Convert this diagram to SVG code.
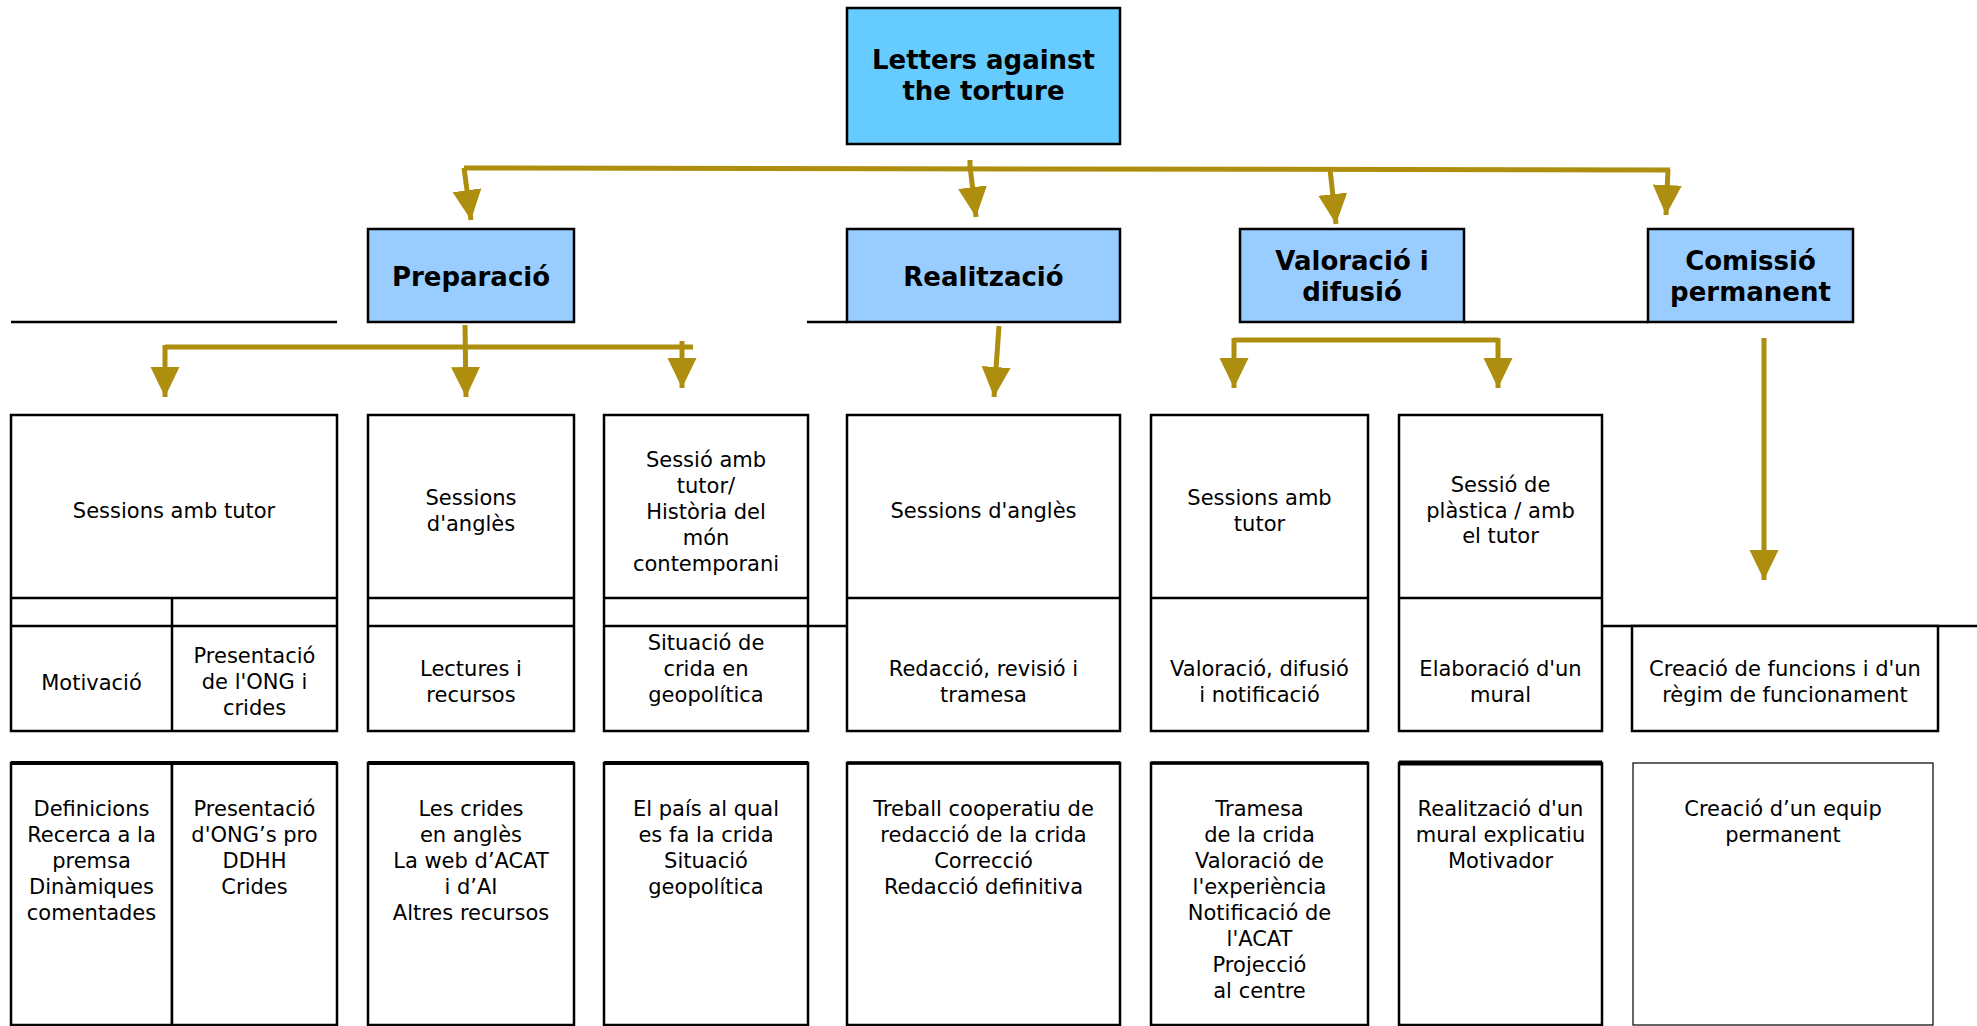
<svg xmlns="http://www.w3.org/2000/svg" width="1977" height="1026" viewBox="0 0 1977 1026">
<style>
.t{font-family:"DejaVu Sans",Verdana,sans-serif;font-size:21px;fill:#000;text-anchor:middle}
.h{font-family:"DejaVu Sans",Verdana,sans-serif;font-size:26px;font-weight:bold;fill:#000;text-anchor:middle}
.box{fill:#fff;stroke:#000;stroke-width:2.5}
.thin{fill:#fff;stroke:#000;stroke-width:1.2}
.top{fill:#66CCFF;stroke:#000;stroke-width:2.5}
.l1{fill:#99CCFF;stroke:#000;stroke-width:2.5}
.ln{stroke:#000;stroke-width:2.5;fill:none}
.bar{stroke:#AE8E0E;stroke-width:5;fill:none}
.arr{stroke:#AE8E0E;stroke-width:5;fill:none;marker-end:url(#ah)}
</style>
<defs>
<marker id="ah" markerUnits="userSpaceOnUse" markerWidth="31" markerHeight="30" refX="30" refY="14.5" orient="auto">
<path d="M0,0 L30,14.5 L0,29 Z" fill="#AE8E0E"/>
</marker>
</defs>

<g id="connectors">
<path class="bar" d="M464,168 L1670,170"/>
<path class="bar" d="M970,160 L970,168"/>
<path class="arr" d="M464,168 L471,220"/>
<path class="arr" d="M970,166 L976,217"/>
<path class="arr" d="M1330,169 L1336,224"/>
<path class="arr" d="M1668,169 L1666,215"/>
<path class="bar" d="M165,347 L693,347"/>
<path class="arr" d="M465,325 L466,397"/>
<path class="arr" d="M165,345 L165,397"/>
<path class="arr" d="M682,341 L682,388"/>
<path class="arr" d="M999,326 L994,397"/>
<path class="bar" d="M1234,340 L1498,340"/>
<path class="arr" d="M1234,338 L1234,388"/>
<path class="arr" d="M1498,338 L1498,388"/>
<path class="arr" d="M1764,338 L1764,580"/>
</g>

<g id="guides">
<path class="ln" d="M11,322 L337,322 M807,322 L847,322 M1464,322 L1648,322"/>
<path class="ln" d="M808,626 L847,626 M1602,626 L1977,626"/>
</g>

<g id="root">
<rect class="top" x="847" y="8" width="273" height="136"/>
<text class="h" x="983.5" y="69">Letters against</text>
<text class="h" x="983.5" y="100">the torture</text>
</g>

<g id="preparacio">
<rect class="l1" x="368" y="229" width="206" height="93"/>
<text class="h" x="471" y="286">Preparació</text>
</g>
<g id="realitzacio">
<rect class="l1" x="847" y="229" width="273" height="93"/>
<text class="h" x="983.5" y="286">Realització</text>
</g>
<g id="valoracio">
<rect class="l1" x="1240" y="229" width="224" height="93"/>
<text class="h" x="1352" y="270">Valoració i</text>
<text class="h" x="1352" y="301">difusió</text>
</g>
<g id="comissio">
<rect class="l1" x="1648" y="229" width="205" height="93"/>
<text class="h" x="1750.5" y="270">Comissió</text>
<text class="h" x="1750.5" y="301">permanent</text>
</g>

<g id="sessions-tutor">
<rect class="box" x="11" y="415" width="326" height="316"/>
<path class="ln" d="M11,598 L337,598 M11,626 L337,626 M172,598 L172,731"/>
<text class="t" x="174" y="518">Sessions amb tutor</text>
<text class="t" x="91.5" y="690">Motivació</text>
<text class="t" x="254.5" y="663">Presentació</text>
<text class="t" x="254.5" y="689">de l'ONG i</text>
<text class="t" x="254.5" y="715">crides</text>
</g>
<g id="sessions-angles-1">
<rect class="box" x="368" y="415" width="206" height="316"/>
<path class="ln" d="M368,598 L574,598 M368,626 L574,626"/>
<text class="t" x="471" y="505">Sessions</text>
<text class="t" x="471" y="531">d'anglès</text>
<text class="t" x="471" y="676">Lectures i</text>
<text class="t" x="471" y="702">recursos</text>
</g>
<g id="sessio-historia">
<rect class="box" x="604" y="415" width="204" height="316"/>
<path class="ln" d="M604,598 L808,598 M604,626 L808,626"/>
<text class="t" x="706" y="467">Sessió amb</text>
<text class="t" x="706" y="493">tutor/</text>
<text class="t" x="706" y="519">Història del</text>
<text class="t" x="706" y="545">món</text>
<text class="t" x="706" y="571">contemporani</text>
<text class="t" x="706" y="650">Situació de</text>
<text class="t" x="706" y="676">crida en</text>
<text class="t" x="706" y="702">geopolítica</text>
</g>
<g id="sessions-angles-2">
<rect class="box" x="847" y="415" width="273" height="316"/>
<path class="ln" d="M847,598 L1120,598"/>
<text class="t" x="983.5" y="518">Sessions d'anglès</text>
<text class="t" x="983.5" y="676">Redacció, revisió i</text>
<text class="t" x="983.5" y="702">tramesa</text>
</g>
<g id="sessions-tutor-2">
<rect class="box" x="1151" y="415" width="217" height="316"/>
<path class="ln" d="M1151,598 L1368,598"/>
<text class="t" x="1259.5" y="505">Sessions amb</text>
<text class="t" x="1259.5" y="531">tutor</text>
<text class="t" x="1259.5" y="676">Valoració, difusió</text>
<text class="t" x="1259.5" y="702">i notificació</text>
</g>
<g id="sessio-plastica">
<rect class="box" x="1399" y="415" width="203" height="316"/>
<path class="ln" d="M1399,598 L1602,598"/>
<text class="t" x="1500.5" y="492">Sessió de</text>
<text class="t" x="1500.5" y="518">plàstica / amb</text>
<text class="t" x="1500.5" y="543">el tutor</text>
<text class="t" x="1500.5" y="676">Elaboració d'un</text>
<text class="t" x="1500.5" y="702">mural</text>
</g>
<g id="creacio-funcions">
<rect class="box" x="1632" y="626" width="306" height="105"/>
<text class="t" x="1785" y="676">Creació de funcions i d'un</text>
<text class="t" x="1785" y="702">règim de funcionament</text>
</g>

<g id="detall-tutor">
<rect class="box" x="11" y="763" width="161" height="262"/>
<rect class="box" x="172" y="763" width="165" height="262"/>
<path d="M11,763 L337,763" stroke="#000" stroke-width="4"/>
<text class="t" x="91.5" y="816">Definicions</text>
<text class="t" x="91.5" y="842">Recerca a la</text>
<text class="t" x="91.5" y="868">premsa</text>
<text class="t" x="91.5" y="894">Dinàmiques</text>
<text class="t" x="91.5" y="920">comentades</text>
<text class="t" x="254.5" y="816">Presentació</text>
<text class="t" x="254.5" y="842">d'ONG’s pro</text>
<text class="t" x="254.5" y="868">DDHH</text>
<text class="t" x="254.5" y="894">Crides</text>
</g>
<g id="detall-angles">
<rect class="box" x="368" y="763" width="206" height="262"/>
<path d="M368,763 L574,763" stroke="#000" stroke-width="4"/>
<text class="t" x="471" y="816">Les crides</text>
<text class="t" x="471" y="842">en anglès</text>
<text class="t" x="471" y="868">La web d’ACAT</text>
<text class="t" x="471" y="894">i d’AI</text>
<text class="t" x="471" y="920">Altres recursos</text>
</g>
<g id="detall-pais">
<rect class="box" x="604" y="763" width="204" height="262"/>
<path d="M604,763 L808,763" stroke="#000" stroke-width="4"/>
<text class="t" x="706" y="816">El país al qual</text>
<text class="t" x="706" y="842">es fa la crida</text>
<text class="t" x="706" y="868">Situació</text>
<text class="t" x="706" y="894">geopolítica</text>
</g>
<g id="detall-redaccio">
<rect class="box" x="847" y="763" width="273" height="262"/>
<path d="M847,763 L1120,763" stroke="#000" stroke-width="3.5"/>
<text class="t" x="983.5" y="816">Treball cooperatiu de</text>
<text class="t" x="983.5" y="842">redacció de la crida</text>
<text class="t" x="983.5" y="868">Correcció</text>
<text class="t" x="983.5" y="894">Redacció definitiva</text>
</g>
<g id="detall-tramesa">
<rect class="box" x="1151" y="763" width="217" height="262"/>
<path d="M1151,763 L1368,763" stroke="#000" stroke-width="3.5"/>
<text class="t" x="1259.5" y="816">Tramesa</text>
<text class="t" x="1259.5" y="842">de la crida</text>
<text class="t" x="1259.5" y="868">Valoració de</text>
<text class="t" x="1259.5" y="894">l'experiència</text>
<text class="t" x="1259.5" y="920">Notificació de</text>
<text class="t" x="1259.5" y="946">l'ACAT</text>
<text class="t" x="1259.5" y="972">Projecció</text>
<text class="t" x="1259.5" y="998">al centre</text>
</g>
<g id="detall-mural">
<rect class="box" x="1399" y="763" width="203" height="262"/>
<path d="M1399,763 L1602,763" stroke="#000" stroke-width="5"/>
<text class="t" x="1500.5" y="816">Realització d'un</text>
<text class="t" x="1500.5" y="842">mural explicatiu</text>
<text class="t" x="1500.5" y="868">Motivador</text>
</g>
<g id="detall-equip">
<rect class="thin" x="1633" y="763" width="300" height="262"/>
<text class="t" x="1783" y="816">Creació d’un equip</text>
<text class="t" x="1783" y="842">permanent</text>
</g>
</svg>
